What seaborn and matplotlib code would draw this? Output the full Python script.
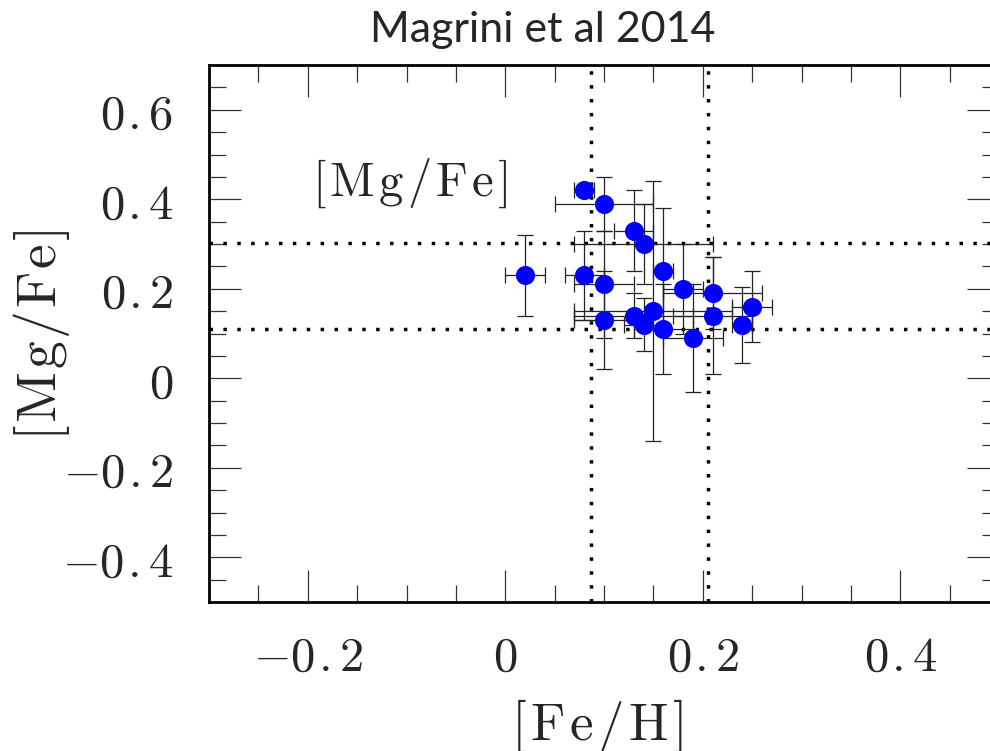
import matplotlib
matplotlib.use("Agg")
import matplotlib.pyplot as plt
from matplotlib.ticker import MultipleLocator, FixedLocator, FixedFormatter
import seaborn as sns
import pandas as pd

# [Fe/H] and [Mg/Fe] of the cluster sample with their uncertainties
feh = [0.08, 0.10, 0.13, 0.14, 0.02, 0.08, 0.10, 0.16, 0.18, 0.21,
       0.25, 0.21, 0.24, 0.10, 0.13, 0.14, 0.15, 0.16, 0.19]
mgfe = [0.42, 0.39, 0.33, 0.30, 0.23, 0.23, 0.21, 0.24, 0.20, 0.19,
        0.16, 0.14, 0.12, 0.13, 0.14, 0.12, 0.15, 0.11, 0.09]
feh_err = [0.01, 0.05, 0.02, 0.07, 0.02, 0.02, 0.03, 0.01, 0.02, 0.05,
           0.02, 0.04, 0.01, 0.03, 0.06, 0.02, 0.08, 0.03, 0.03]
mgfe_err = [0.01, 0.06, 0.09, 0.09, 0.09, 0.10, 0.12, 0.14, 0.10, 0.08,
            0.08, 0.13, 0.085, 0.11, 0.05, 0.06, 0.29, 0.10, 0.12]

# reference ranges marked with dotted lines
feh_limits = [0.087, 0.205]
mgfe_limits = [0.110, 0.303]

xticks = [-0.2, 0.0, 0.2, 0.4]
xticklabels = ["-0.2", "0", "0.2", "0.4"]
yticks = [-0.4, -0.2, 0.0, 0.2, 0.4, 0.6]
yticklabels = ["-0.4", "-0.2", "0", "0.2", "0.4", "0.6"]


def spaced(chars, gap=0.1):
    """Mathtext string with a small extra gap between every glyph."""
    parts = []
    for c in chars:
        if c.isalpha():
            parts.append(r"\mathrm{%s}" % c)
        else:
            parts.append(c)
    return "$" + (r"\hspace{%g}" % gap).join(parts) + "$"


def number(s):
    """Tick number with an evenly spaced decimal point."""
    out = s.replace(".", r"\hspace{0.07}.\hspace{-0.02}")
    return "$" + out + "$"


df = pd.DataFrame({"feh": feh, "mgfe": mgfe, "feh_err": feh_err, "mgfe_err": mgfe_err})

sns.set_style("ticks")
plt.rcParams["mathtext.fontset"] = "cm"
plt.rcParams["font.family"] = ["DejaVu Sans"]

fig = plt.figure(figsize=(9.9, 7.51), dpi=100)
ax = fig.add_axes([209 / 990, 1 - 602 / 751, 790 / 990, 537 / 751])

# dotted reference lines
for xv in feh_limits:
    ax.axvline(xv, color="black", lw=2.5, linestyle=(0, (1, 3)), dash_capstyle="butt", zorder=1)
for yv in mgfe_limits:
    ax.axhline(yv, color="black", lw=2.5, linestyle=(0, (1, 3)), dash_capstyle="butt", zorder=1)

ax.errorbar(df["feh"], df["mgfe"], xerr=df["feh_err"], yerr=df["mgfe_err"],
            fmt="none", ecolor="#222222", elinewidth=0.9, capsize=6, capthick=0.9, zorder=2)
sns.scatterplot(data=df, x="feh", y="mgfe", ax=ax, color="#0000ff", s=190,
                edgecolor="#0000ff", linewidth=0, zorder=3, legend=False)

ax.set_xlim(-0.3, 0.5)
ax.set_ylim(-0.5, 0.7)

ax.xaxis.set_major_locator(FixedLocator(xticks))
ax.xaxis.set_major_formatter(FixedFormatter([number(t) for t in xticklabels]))
ax.yaxis.set_major_locator(FixedLocator(yticks))
ax.yaxis.set_major_formatter(FixedFormatter([number(t) for t in yticklabels]))
ax.xaxis.set_minor_locator(MultipleLocator(0.05))
ax.yaxis.set_minor_locator(MultipleLocator(0.05))

ax.tick_params(which="both", direction="in", top=True, right=True, color="#333333", width=0.9)
ax.tick_params(which="major", length=23)
ax.tick_params(which="minor", length=12)
ax.tick_params(axis="x", which="major", pad=22, labelsize=35)
ax.tick_params(axis="y", which="major", pad=26, labelsize=35)

for sp in ax.spines.values():
    sp.set_linewidth(2.0)
    sp.set_color("black")
    sp.set_visible(True)

ax.set_xlabel("")
ax.set_ylabel("")
fig.text(597 / 990, 1 - 726 / 751, spaced("[Fe/H]"), fontsize=38,
         ha="center", va="center")
fig.text(41 / 990, 1 - 335 / 751, spaced("[Mg/Fe]", 0.06), fontsize=40, rotation=90,
         ha="center", va="center")

ax.text(-0.196, 0.435, spaced("[Mg/Fe]"), fontsize=35, ha="left", va="center")

fig.text(543 / 990, 1 - 30 / 751, "Magrini et al 2014", family=["Lato", "DejaVu Sans"],
         fontsize=31, ha="center", va="center")

fig.savefig("out.png", dpi=100)
